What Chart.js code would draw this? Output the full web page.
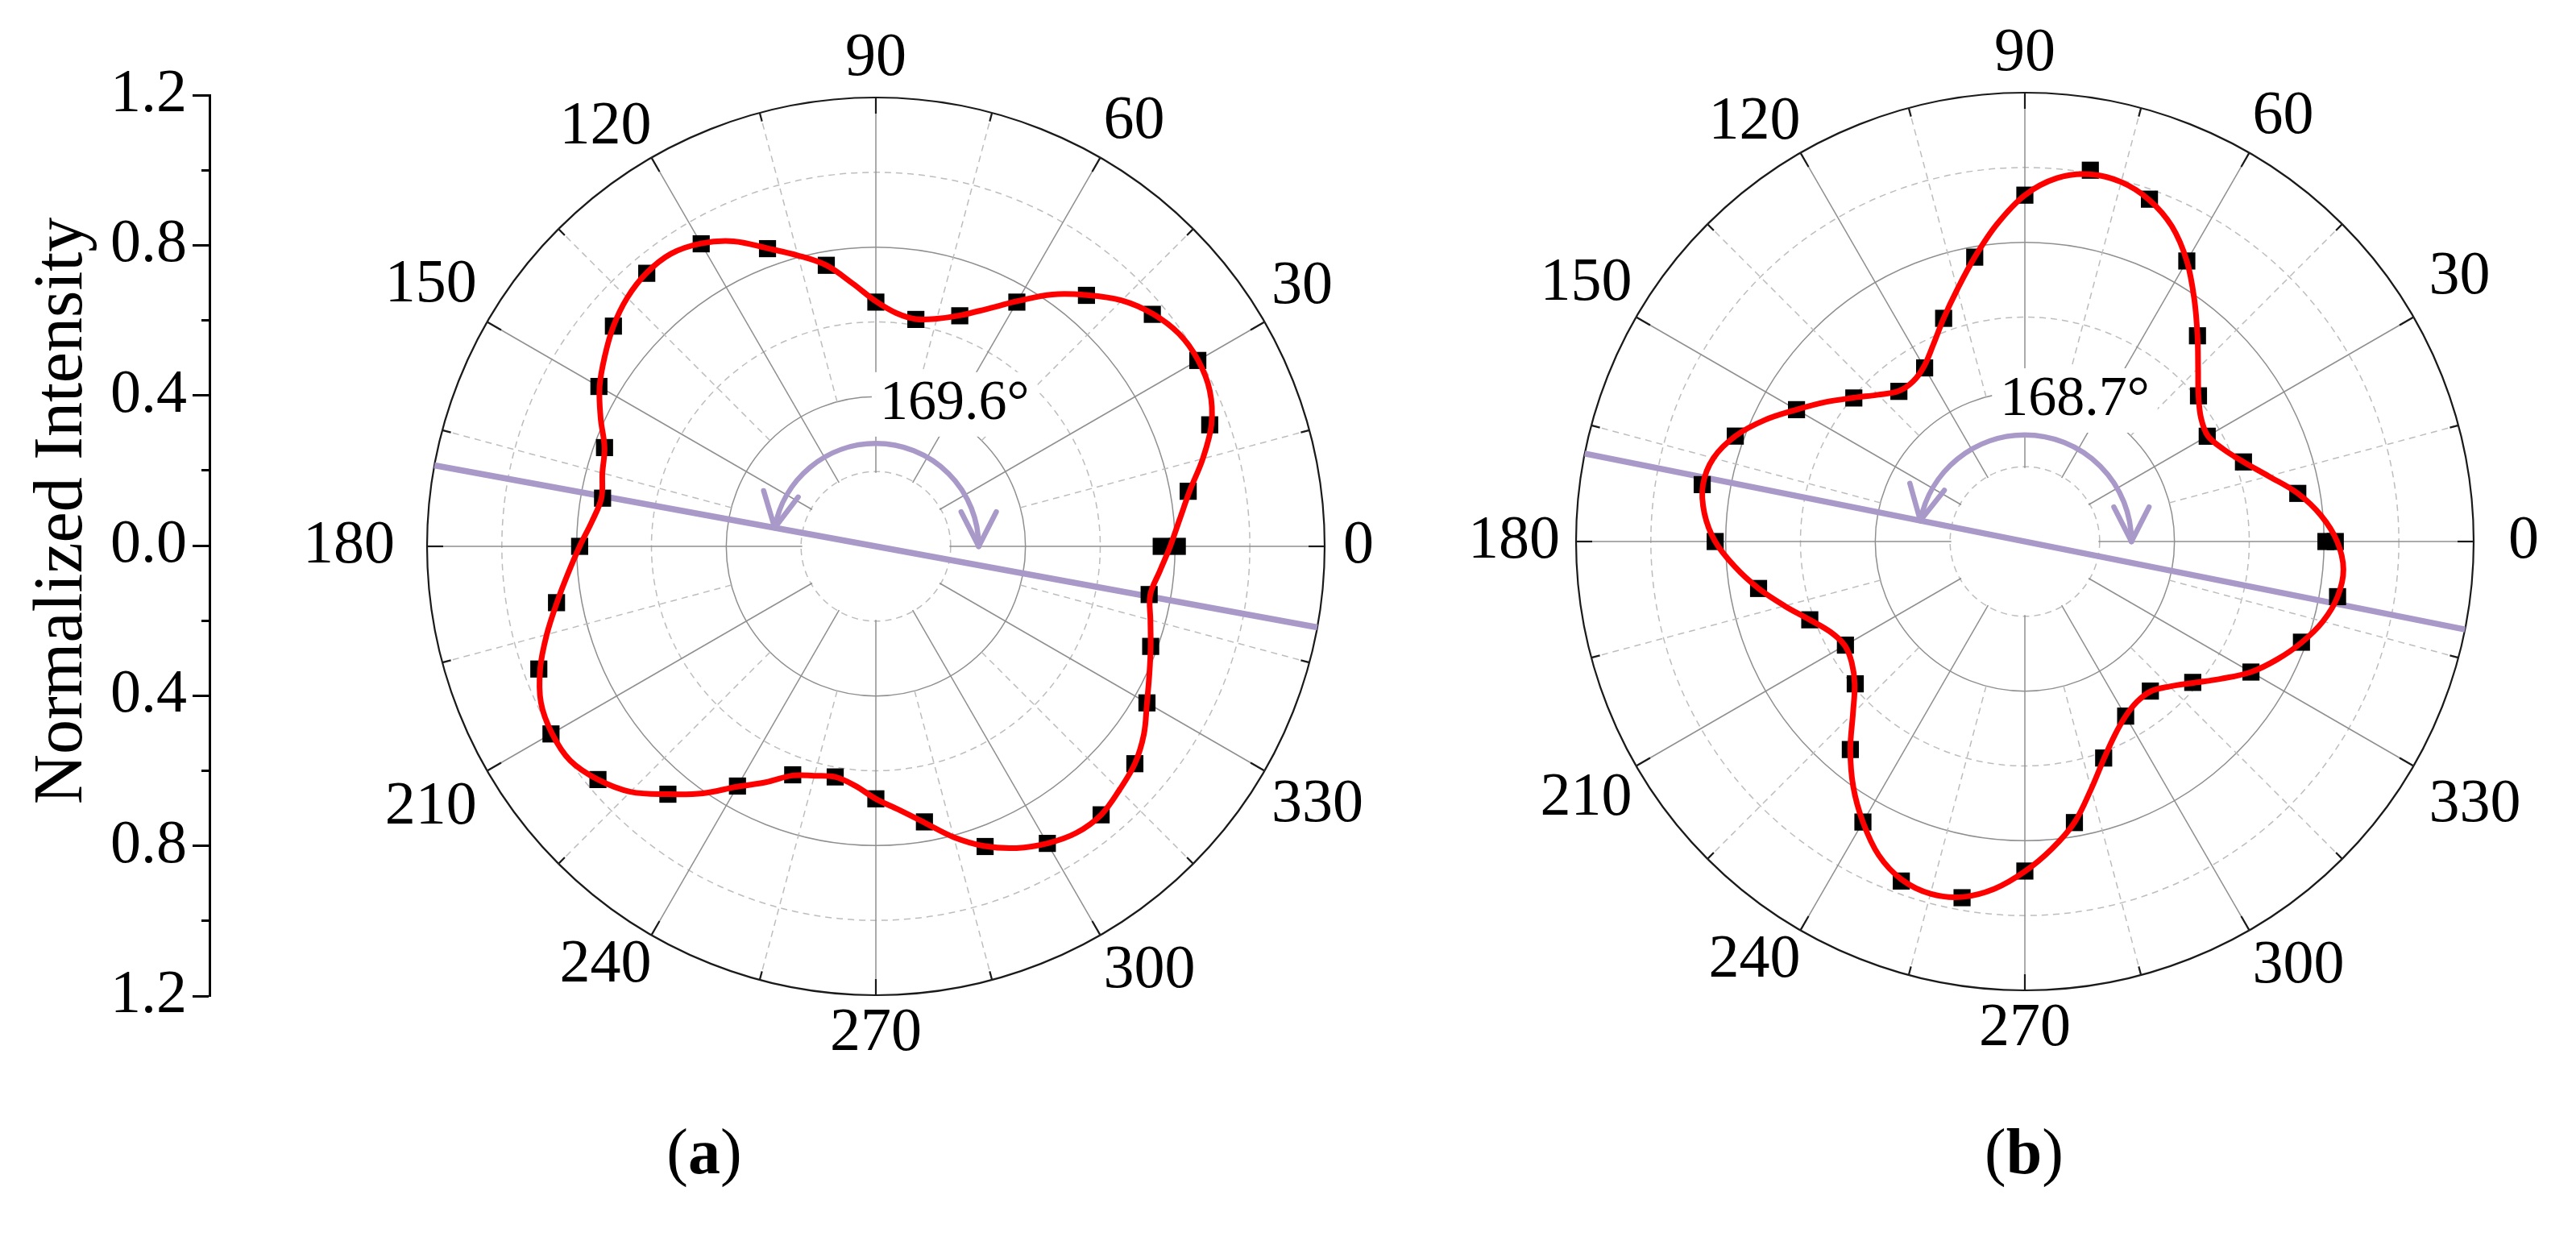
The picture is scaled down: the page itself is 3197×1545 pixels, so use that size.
<!DOCTYPE html>
<html>
<head>
<meta charset="utf-8">
<script src="https://cdn.jsdelivr.net/npm/chart.js@4.4.1/dist/chart.umd.min.js"></script>
<style>
html, body { margin: 0; padding: 0; background: #fff; overflow: hidden; }
#stage { position: relative; width: 3197px; height: 1545px; overflow: hidden; background: #fff; font-family: "Liberation Serif", serif; }
canvas { position: absolute; }
.cap { position: absolute; font-family: "Liberation Serif", serif; font-size: 80px; line-height: 1; color: #000; transform: translate(-50%, -50%); white-space: nowrap; }
.warm { position: absolute; left: -9999px; top: 0; font-family: "Liberation Serif"; font-size: 74px; }
</style>
</head>
<body>
<div id="stage">
  <canvas id="axisC" width="300" height="1300" style="left:0px;top:0px;width:300px;height:1300px"></canvas>
  <canvas id="polarA" width="1620" height="1286" style="left:277px;top:35px;width:1620px;height:1286px"></canvas>
  <canvas id="polarB" width="1620" height="1286" style="left:1703px;top:29px;width:1620px;height:1286px"></canvas>
  <div class="cap" style="left:874px;top:1429px">(<b>a</b>)</div>
  <div class="cap" style="left:2512px;top:1429px">(<b>b</b>)</div>
  <div class="warm">0123456789.° Normalized Intensity</div>
</div>
<script>
// ---------------- data ----------------
const FIT_ANGLES = [0,5,10,15,20,25,30,35,40,45,50,55,60,65,70,75,80,85,90,95,100,105,110,115,
  120,125,130,135,140,145,150,155,160,165,170,175,180,185,190,195,200,205,210,215,220,225,230,235,
  240,245,250,255,260,265,270,275,280,285,290,295,300,305,310,315,320,325,330,335,340,345,350,355];
const MARKER_ANGLES = [0,10,20,30,40,50,60,70,80,90,100,110,120,130,140,150,160,170,
  180,190,200,210,220,230,240,250,260,270,280,290,300,310,320,330,340,350];
const ANGLE_TICKS = [0,30,60,90,120,150,180,210,240,270,300,330];
const MINOR_SPOKES = [15,45,75,105,135,165,195,225,255,285,315,345];

// (a) measured intensity (squares) and fitted curve
const MARKERS_A = [0.763,0.848,0.950,0.994,0.965,0.876,0.754,0.656,0.616,0.653,0.763,0.847,
  0.934,0.953,0.916,0.855,0.772,0.742,0.792,0.867,0.959,1.003,0.970,0.865,
  0.740,0.650,0.626,0.675,0.748,0.854,0.917,0.937,0.904,0.837,0.782,0.742];
const MARKER_360_A = 0.806;
const FIT_A = [0.787,0.815,0.852,0.905,0.955,0.985,0.995,0.990,0.967,0.930,0.877,0.822,
  0.757,0.700,0.657,0.630,0.617,0.626,0.655,0.705,0.763,0.805,0.848,0.900,
  0.935,0.955,0.954,0.940,0.916,0.885,0.853,0.812,0.772,0.757,0.745,0.762,
  0.792,0.826,0.866,0.911,0.955,0.988,1.000,0.998,0.970,0.928,0.865,0.806,
  0.742,0.696,0.652,0.635,0.626,0.642,0.675,0.707,0.750,0.805,0.853,0.890,
  0.917,0.935,0.937,0.921,0.904,0.875,0.837,0.807,0.782,0.760,0.745,0.762];
const AXIS_ANGLE_A = 169.6;

// (b)
const MARKERS_B = [0.805,0.741,0.622,0.563,0.606,0.718,0.866,0.974,1.008,0.926,0.772,0.635,
  0.536,0.524,0.597,0.705,0.824,0.876,0.828,0.723,0.612,0.554,0.592,0.726,
  0.866,0.966,0.967,0.881,0.763,0.616,0.539,0.522,0.586,0.698,0.787,0.849];
const MARKER_360_B = 0.830;
const FIT_B = [0.835,0.795,0.741,0.675,0.622,0.585,0.565,0.575,0.606,0.655,0.718,0.790,
  0.866,0.930,0.972,0.995,0.997,0.975,0.926,0.852,0.772,0.698,0.635,0.580,
  0.540,0.522,0.525,0.555,0.598,0.650,0.705,0.768,0.824,0.862,0.874,0.860,
  0.828,0.778,0.723,0.665,0.612,0.573,0.556,0.565,0.594,0.650,0.726,0.800,
  0.866,0.925,0.962,0.975,0.965,0.932,0.882,0.825,0.763,0.685,0.618,0.570,
  0.539,0.523,0.523,0.548,0.588,0.640,0.698,0.745,0.788,0.825,0.849,0.855];
const AXIS_ANGLE_B = 168.7;

const R_MIN = 0, R_MAX = 1.2, R_STEP = 0.2;
const HOLE_VALUE = 0.2, MINOR_SPOKE_START = 0.4;
const AXIS_TITLE = 'Normalized Intensity';

// ---------------- styles ----------------
const FONT = '"Liberation Serif", "DejaVu Serif", serif';
const SOLID_GRID = '#8f8f8f';
const DASH_GRID = '#bdbdbd';
const OUTER = '#1a1a1a';
const PURPLE = '#a999c9';
const RED = '#ff0000';

// ---------------- decoration plugin ----------------
const polarDecor = {
  id: 'polarDecor',
  beforeDatasetsDraw(chart, args, o) {
    const s = chart.scales.r, ctx = chart.ctx;
    const cx = s.xCenter, cy = s.yCenter;
    const dist = v => s.getDistanceFromCenterForValue(v);
    const at = (v, deg) => { const a = deg * Math.PI / 180, r = dist(v); return {x: cx + r * Math.cos(a), y: cy - r * Math.sin(a)}; };
    const seg = (p, q) => { ctx.beginPath(); ctx.moveTo(p.x, p.y); ctx.lineTo(q.x, q.y); ctx.stroke(); };
    ctx.save();
    // empty centre (spokes start at the first ring)
    ctx.fillStyle = '#fff';
    ctx.beginPath(); ctx.arc(cx, cy, dist(HOLE_VALUE) - 1.5, 0, Math.PI * 2); ctx.fill();
    // dashed minor spokes
    ctx.strokeStyle = DASH_GRID; ctx.lineWidth = 1.5; ctx.setLineDash([8, 6]);
    MINOR_SPOKES.forEach(a => seg(at(MINOR_SPOKE_START, a), at(R_MAX, a)));
    ctx.setLineDash([]);
    // inward ticks on the outer ring
    ctx.strokeStyle = OUTER; ctx.lineWidth = 2.2;
    const R = dist(R_MAX);
    const tick = (a, len) => {
      const rad = a * Math.PI / 180;
      ctx.beginPath();
      ctx.moveTo(cx + R * Math.cos(rad), cy - R * Math.sin(rad));
      ctx.lineTo(cx + (R - len) * Math.cos(rad), cy - (R - len) * Math.sin(rad));
      ctx.stroke();
    };
    ANGLE_TICKS.forEach(a => tick(a, 20));
    MINOR_SPOKES.forEach(a => tick(a, 11));
    // angle label with white backing
    const txt = o.axisAngle.toFixed(1) + '\u00B0';
    ctx.font = '70px ' + FONT;
    const w = ctx.measureText(txt).width;
    const c = at(o.labelValue, o.labelAngle);
    ctx.fillStyle = '#fff';
    ctx.fillRect(c.x - w / 2 - 10, c.y - 40, w + 20, 80);
    ctx.fillStyle = '#000'; ctx.textAlign = 'center'; ctx.textBaseline = 'middle';
    ctx.fillText(txt, c.x, c.y);
    // purple orientation line
    ctx.strokeStyle = PURPLE; ctx.lineWidth = 7.5; ctx.lineCap = 'butt';
    seg(at(R_MAX, o.axisAngle), at(R_MAX, o.axisAngle + 180));
    // double-headed arc
    ctx.lineWidth = 6.5; ctx.lineCap = 'round'; ctx.lineJoin = 'round';
    ctx.beginPath(); ctx.arc(cx, cy, dist(o.arcValue), 0, -o.axisAngle * Math.PI / 180, true); ctx.stroke();
    const head = (p, ux, uy) => {
      const L = 48, phi = 27 * Math.PI / 180;
      [phi, -phi].forEach(sg => {
        const bx = -ux, by = -uy;
        const rx = bx * Math.cos(sg) - by * Math.sin(sg), ry = bx * Math.sin(sg) + by * Math.cos(sg);
        ctx.beginPath(); ctx.moveTo(p.x, p.y); ctx.lineTo(p.x + L * rx, p.y + L * ry); ctx.stroke();
      });
    };
    head(at(o.arcValue, 0), 0, 1);
    const th = o.axisAngle * Math.PI / 180;
    head(at(o.arcValue, o.axisAngle), -Math.sin(th), -Math.cos(th));
    ctx.restore();
  }
};

function makePolar(id, fit, markers, marker360, axisAngle, deco) {
  // counter-clockwise order starting at 0 deg on the right
  const labels = FIT_ANGLES.map((_, i) => FIT_ANGLES[(FIT_ANGLES.length - i) % FIT_ANGLES.length]);
  const fitData = labels.map(a => fit[FIT_ANGLES.indexOf(a)]);
  const markerData = labels.map(a => { const k = MARKER_ANGLES.indexOf(a); return k >= 0 ? markers[k] : null; });
  const m360Data = labels.map(a => (a === 0 ? marker360 : null));
  const ringStyle = v => Math.round(v * 10);
  return new Chart(document.getElementById(id), {
    type: 'radar',
    data: {
      labels,
      datasets: [
        { label: 'fit', data: fitData, borderColor: RED, borderWidth: 7, pointRadius: 0, fill: false,
          tension: 0.35, borderJoinStyle: 'round' },
        { label: 'measured', data: markerData, showLine: false, pointStyle: 'rect', pointRadius: 15,
          pointBackgroundColor: '#000', pointBorderWidth: 0, borderWidth: 0, fill: false },
        { label: 'measured 360', data: m360Data, showLine: false, pointStyle: 'rect', pointRadius: 15,
          pointBackgroundColor: '#000', pointBorderWidth: 0, borderWidth: 0, fill: false }
      ]
    },
    options: {
      responsive: false, animation: false, devicePixelRatio: 1, events: [],
      layout: { padding: 0 },
      plugins: { legend: { display: false }, tooltip: { enabled: false },
        polarDecor: Object.assign({ axisAngle }, deco) },
      scales: {
        r: {
          min: R_MIN, max: R_MAX, startAngle: 90,
          ticks: { display: false, stepSize: R_STEP },
          grid: {
            circular: true,
            color: c => { const k = ringStyle(c.tick.value); return k === 12 ? OUTER : (k % 4 === 0 ? SOLID_GRID : DASH_GRID); },
            lineWidth: c => (ringStyle(c.tick.value) === 12 ? 2.2 : 1.5)
          },
          border: { dash: c => (ringStyle(c.tick.value) % 4 === 2 ? [8, 6] : []) },
          angleLines: { display: true, color: SOLID_GRID, lineWidth: c => (c.label !== '' ? 1.5 : 0) },
          pointLabels: {
            display: true, color: '#000',
            font: { family: FONT, size: 76, lineHeight: 1.0 },
            padding: c => (deco.pad[c.label] !== undefined ? deco.pad[c.label] : 10),
            callback: v => (ANGLE_TICKS.includes(v) ? String(v) : '')
          }
        }
      }
    },
    plugins: [polarDecor]
  });
}

function drawAll() {
  Chart.defaults.font.family = FONT;
  makePolar('polarA', FIT_A, MARKERS_A, MARKER_360_A, AXIS_ANGLE_A, {
    arcValue: 0.275, labelValue: 0.434, labelAngle: 61,
    pad: { '0': 23, '30': 10, '60': 8, '90': 10, '120': 0, '150': 15, '180': 40, '210': 15, '240': 0, '270': 10, '300': 8, '330': 10 }
  });
  makePolar('polarB', FIT_B, MARKERS_B, MARKER_360_B, AXIS_ANGLE_B, {
    arcValue: 0.285, labelValue: 0.40, labelAngle: 70.5,
    pad: { '0': 43, '30': 22, '60': 8, '90': 10, '120': 0, '150': 6, '180': 20, '210': 6, '240': 0, '270': 10, '300': 8, '330': 22 }
  });

  // ---------------- left intensity axis ----------------
  const isMajor = v => Math.round(v * 10) % 4 === 0;
  new Chart(document.getElementById('axisC'), {
    type: 'scatter',
    data: { datasets: [] },
    options: {
      responsive: false, animation: false, devicePixelRatio: 1, events: [],
      layout: { padding: { left: 0, top: 118, right: 30, bottom: 64 } },
      plugins: { legend: { display: false }, tooltip: { enabled: false } },
      scales: {
        x: { display: false, min: 0, max: 1 },
        y: {
          position: 'left', min: -R_MAX, max: R_MAX,
          afterFit: s => { s.width = 260; },
          border: { display: true, color: '#000', width: 3 },
          grid: {
            drawOnChartArea: false, drawTicks: true, tickLength: 21, tickColor: '#000', tickWidth: 3,
            tickBorderDash: c => (isMajor(c.tick.value) ? [] : [10, 11]),
            tickBorderDashOffset: c => (isMajor(c.tick.value) ? 0 : 10)
          },
          ticks: {
            stepSize: R_STEP, autoSkip: false, padding: 7, color: '#000',
            font: { family: FONT, size: 76 },
            callback: v => (isMajor(v) ? Math.abs(v).toFixed(1) : '')
          },
          title: {
            display: true, text: '\u2002\u2002' + AXIS_TITLE, color: '#000',
            font: { family: FONT, size: 86, lineHeight: 1.0 },
            padding: { top: 35, bottom: 0 }
          }
        }
      }
    }
  });
}

let drawn = false;
function go() { if (!drawn) { drawn = true; drawAll(); } }
if (document.fonts && document.fonts.load) {
  Promise.all([
    document.fonts.load('76px "Liberation Serif"', '0123456789'),
    document.fonts.load('86px "Liberation Serif"', 'Normalized Intensity'),
    document.fonts.load('bold 80px "Liberation Serif"', 'ab')
  ]).then(go, go);
  setTimeout(go, 1500);
} else {
  go();
}
</script>
</body>
</html>
